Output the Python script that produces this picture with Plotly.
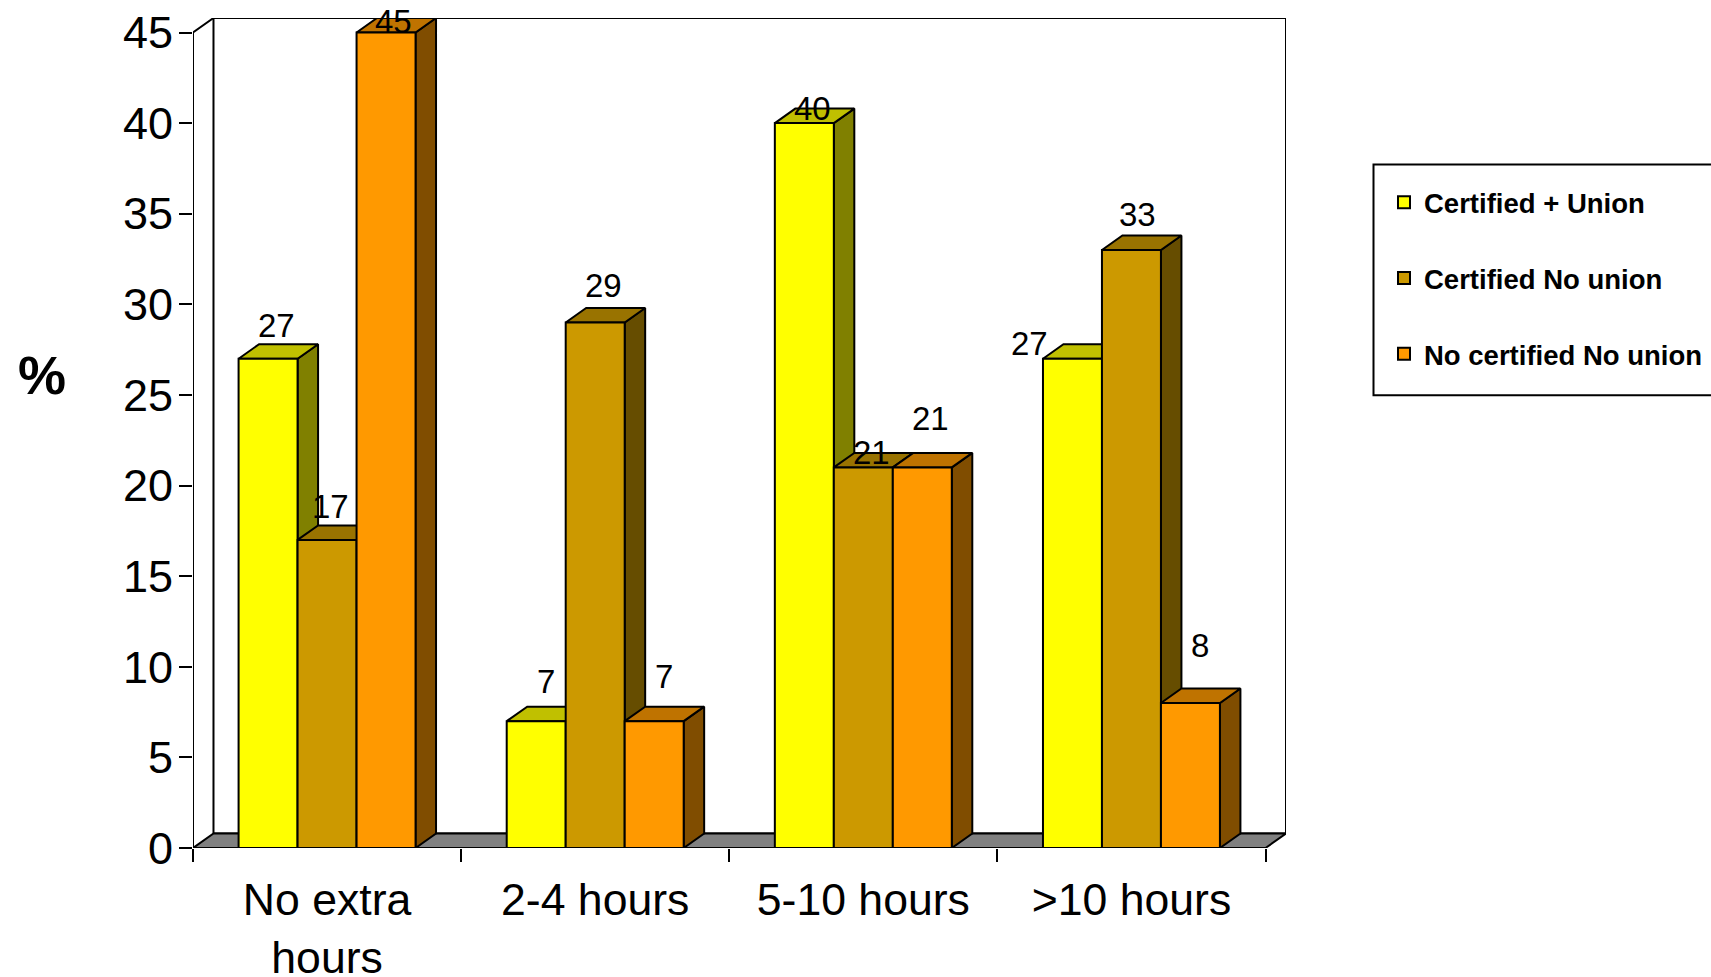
import plotly.graph_objects as go

CATEGORIES = ["No extra<br>hours", "2-4 hours", "5-10 hours", ">10 hours"]
SERIES = ["Certified + Union", "Certified No union", "No certified No union"]
CERTIFIED_UNION = [27, 7, 40, 27]
CERTIFIED_NO_UNION = [17, 29, 21, 33]
NO_CERTIFIED_NO_UNION = [45, 7, 21, 8]
VALUES = [CERTIFIED_UNION, CERTIFIED_NO_UNION, NO_CERTIFIED_NO_UNION]
Y_TICKS = list(range(0, 50, 5))

FRONT = ["#FFFF00", "#CC9900", "#FF9900"]
TOP = ["#C0C000", "#997300", "#BF7300"]
SIDE = ["#808000", "#664D00", "#804D00"]
FLOOR = "#808080"
LINE = "#000000"
FONT = "Liberation Sans"
LW = 2

# Label nudges in pixels (x, up) per series and category, as placed in the original
LABEL_NUDGE = [
    [(8, 33), (10, 40), (8, 15), (-43, 15)],
    [(3, 33), (8, 37), (8, 15), (6, 35)],
    [(7, 11), (10, 45), (8, 49), (10, 58)],
]

DEPTH_X = 0.0764   # oblique depth in category units
DEPTH_Y = 0.8      # oblique depth in value units
BAR_W = 0.22
XR = [-0.5, 3.5 + DEPTH_X]
YR = [0, 45 + DEPTH_Y]
YTOP = 45

WIDTH, HEIGHT = 1711, 977
L, R, T, B = 193, 1286, 18, 848.5

fig = go.Figure()


def poly(xs, ys, fill, **kw):
    fig.add_trace(go.Scatter(x=xs, y=ys, mode="lines", fill="toself", fillcolor=fill,
                             line=dict(color=LINE, width=LW), showlegend=False,
                             hoverinfo="skip", **kw))


# back wall and floor
x0, x1 = -0.5, 3.5
poly([x0 + DEPTH_X, x1 + DEPTH_X, x1 + DEPTH_X, x0 + DEPTH_X, x0 + DEPTH_X],
     [DEPTH_Y, DEPTH_Y, YTOP + DEPTH_Y, YTOP + DEPTH_Y, DEPTH_Y], "#FFFFFF")
poly([x0, x1, x1 + DEPTH_X, x0 + DEPTH_X, x0], [0, 0, DEPTH_Y, DEPTH_Y, 0], FLOOR)
fig.add_trace(go.Scatter(x=[x0, x0, x0 + DEPTH_X], y=[0, YTOP, YTOP + DEPTH_Y], mode="lines",
                         line=dict(color=LINE, width=LW), showlegend=False, hoverinfo="skip"))

# side and top faces, computed from the values
for s, vals in enumerate(VALUES):
    tx, ty, sx, sy = [], [], [], []
    for c, v in enumerate(vals):
        a = c + (s - 1.5) * BAR_W
        b = a + BAR_W
        tx += [a, b, b + DEPTH_X, a + DEPTH_X, a, None]
        ty += [v, v, v + DEPTH_Y, v + DEPTH_Y, v, None]
        sx += [b, b + DEPTH_X, b + DEPTH_X, b, b, None]
        sy += [0, DEPTH_Y, v + DEPTH_Y, v, 0, None]
    poly(sx, sy, SIDE[s])
    poly(tx, ty, TOP[s])

# front faces on the overlaid axes, above all the oblique faces
for s, vals in enumerate(VALUES):
    fig.add_trace(go.Bar(x=CATEGORIES, y=vals, name=SERIES[s], xaxis="x2", yaxis="y2",
                         marker=dict(color=FRONT[s], line=dict(color=LINE, width=LW)),
                         legendgroup=SERIES[s]))

annotations = []
for s, vals in enumerate(VALUES):
    for c, v in enumerate(vals):
        dx, up = LABEL_NUDGE[s][c]
        annotations.append(dict(x=c + (s - 1) * BAR_W, y=v, xref="x", yref="y", text=str(v),
                                showarrow=False, xshift=dx, yshift=up, xanchor="center",
                                yanchor="middle", font=dict(family=FONT, size=33, color="#000")))
annotations.append(dict(x=(42 - L) / (R - L), y=(B - 375) / (B - T), xref="paper", yref="paper",
                        text="%", showarrow=False, xanchor="center", yanchor="middle",
                        font=dict(family=FONT, size=54, color="#000", weight=700)))

box = dict(type="rect", xref="paper", yref="paper",
           x0=(1373.5 - L) / (R - L), x1=(1740 - L) / (R - L),
           y0=(B - 395.5) / (B - T), y1=(B - 164.5) / (B - T),
           line=dict(color=LINE, width=2), fillcolor="#FFFFFF", layer="below")

fig.update_layout(
    width=WIDTH, height=HEIGHT, paper_bgcolor="#FFFFFF", plot_bgcolor="#FFFFFF",
    margin=dict(l=L, r=WIDTH - R, t=T, b=HEIGHT - B, pad=0, autoexpand=False),
    barmode="group", bargap=0.34, bargroupgap=0,
    font=dict(family=FONT, color="#000"),
    xaxis=dict(range=XR, tickmode="array", tickvals=[-0.5, 0.5, 1.5, 2.5, 3.5], showticklabels=False,
               ticks="outside", ticklen=13, tickwidth=LW, tickcolor=LINE, showgrid=False,
               zeroline=False, showline=False, automargin=False),
    yaxis=dict(range=YR, tickmode="array", tickvals=Y_TICKS, ticks="outside", ticklen=13, tickwidth=LW,
               tickcolor=LINE, showgrid=False, zeroline=False, showline=False, automargin=False,
               tickfont=dict(family=FONT, size=45, color="#000"), ticklabelstandoff=-3),
    xaxis2=dict(type="category", categoryorder="array", categoryarray=CATEGORIES, range=XR,
                overlaying="x", anchor="y2", side="bottom", ticks="", showgrid=False, zeroline=False,
                showline=False, tickangle=0, automargin=False, ticklabelstandoff=21,
                tickfont=dict(family=FONT, size=44.6, color="#000")),
    yaxis2=dict(range=YR, overlaying="y", anchor="x2", visible=False, automargin=False),
    legend=dict(x=(1384 - L) / (R - L), xanchor="left", y=(B - 178) / (B - T), yanchor="top",
                bgcolor="rgba(0,0,0,0)", borderwidth=0, itemwidth=30, tracegroupgap=37,
                traceorder="grouped", itemclick=False, itemdoubleclick=False,
                font=dict(family=FONT, size=27.5, color="#000", weight=700)),
    annotations=annotations,
    shapes=[box],
)

fig.write_html("out.html", config={"displayModeBar": False},
               post_script="document.body.style.margin='0';document.body.style.overflow='hidden';")
